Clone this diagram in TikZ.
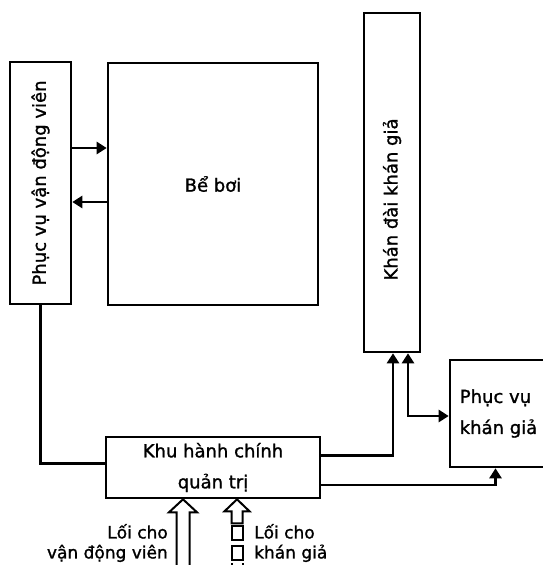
\documentclass[tikz,border=0pt]{standalone}
\usepackage{fontspec}
\setmainfont{DejaVu Sans}
\newfontfamily\heavy{DejaVu Sans}[FakeBold=1.3]
\usetikzlibrary{arrows.meta}
\begin{document}
\begin{tikzpicture}[x=1pt,y=-1pt,
  box/.style={draw, line width=2.6pt, inner sep=0pt, align=center,
    font=\heavy\fontsize{18}{31}\selectfont},
  link/.style={line width=2.6pt},
  tip/.tip={Triangle[length=10pt,width=12pt]},
  arr/.style={link,-tip},
  arrboth/.style={link,tip-tip},
  gate/.style={line width=2pt, fill=white, line join=miter},
  lbl/.style={font=\heavy\fontsize{17}{20}\selectfont, inner sep=0pt}]
\useasboundingbox (0,0) rectangle (542,565);

\node[box, minimum width=61pt, minimum height=242pt] (pvvdv) at (40.5,183)
  {\rotatebox{90}{Phục vụ vận động viên}};
\node[box, minimum width=210pt, minimum height=242pt] (pool) at (213,184) {Bể bơi};
\node[box, minimum width=56pt, minimum height=339pt] (grand) at (392,182.5)
  {\rotatebox{90}{Khán đài khán giả\hspace{34pt}}};
\node[box, minimum width=97pt, minimum height=107pt, align=left] (pvkg) at (498.5,413.5)
  {Phục vụ\\khán giả};
\node[box, minimum width=214pt, minimum height=61pt] (khu) at (213,467.5)
  {Khu hành chính\\quản trị};

% connectors
\draw[arr] (pvvdv.east |- 0,148) -- (pool.west |- 0,148);
\draw[arr] (pool.west |- 0,202) -- (pvvdv.east |- 0,202);
\draw[link] (pvvdv.south) |- ([yshift=4pt]khu.west);
\draw[arr] ([yshift=12pt]khu.east) -| ([xshift=1pt]grand.south);
\draw[arrboth] ([xshift=16pt]grand.south) |- ([yshift=-2.5pt]pvkg.west);
\draw[arr] ([yshift=-17.5pt]khu.east) -| ([xshift=-3pt]pvkg.south);

% entrances
\coordinate (in1) at (khu.south -| 183,0);
\coordinate (in2) at (khu.south -| 237,0);
\draw[gate] (in1) -- ++(14,13) -- ++(-7.5,0) -- ++(0,60) -- ++(-13,0) -- ++(0,-60) -- ++(-7.5,0) -- cycle;
\draw[gate] (in2) -- ++(12.5,12) -- ++(-7,0) -- ++(0,12) -- ++(-11,0) -- ++(0,-12) -- ++(-7,0) -- cycle;
\draw[gate] ([shift={(-5.5,27)}]in2) rectangle ++(11,14);
\draw[gate] ([shift={(-5.5,47)}]in2) rectangle ++(11,14);
\draw[gate] ([shift={(-5.5,64)}]in2) -- ++(0,10) ([shift={(5.5,64)}]in2) -- ++(0,10);

\node[lbl, anchor=east, align=right] (lab1) at (168,543) {Lối cho\\vận động viên};
\node[lbl, anchor=west, align=left] (lab2) at (254,543) {Lối cho\\khán giả};
\end{tikzpicture}
\end{document}
